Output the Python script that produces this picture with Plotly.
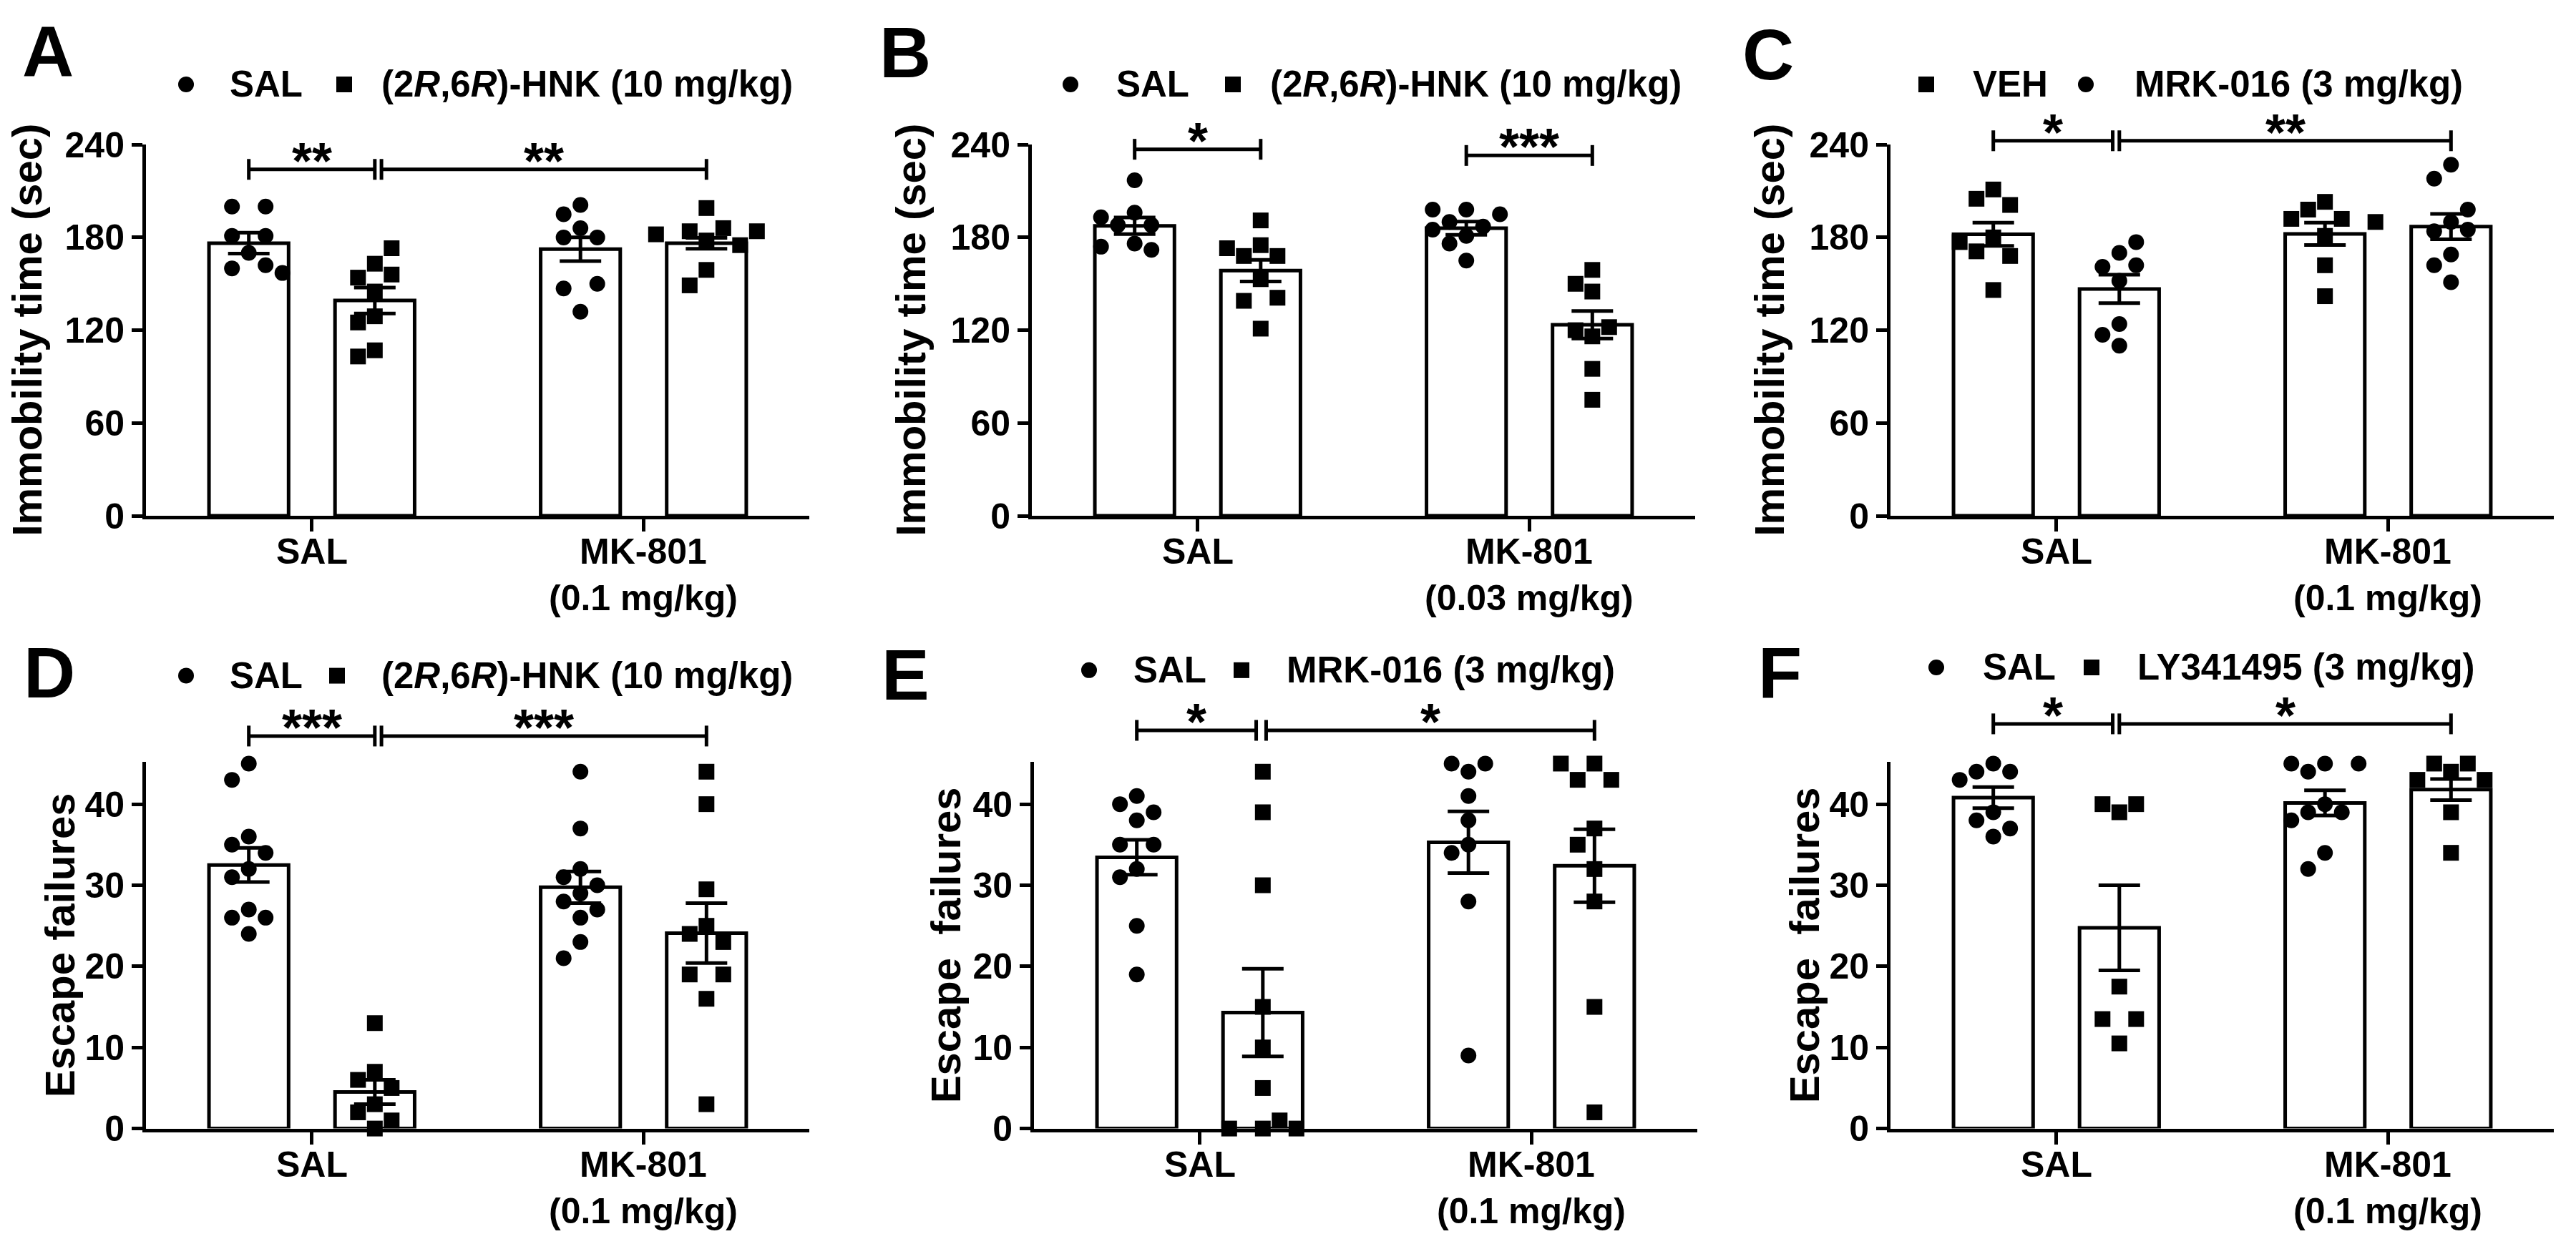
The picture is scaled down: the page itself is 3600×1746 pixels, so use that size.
import plotly.graph_objects as go

W, H = 3600, 1746
FONT = "Liberation Sans, Arial, sans-serif"

# ---------------- data ----------------
# A - immobility, (2R,6R)-HNK with MK-801 0.1 mg/kg
a_sal_sal = [200, 200, 181, 181, 170, 162, 160, 157]
a_sal_hnk = [173, 163, 156, 154, 145, 129, 125, 107, 103]
a_mk_sal = [201, 195, 186, 180, 180, 150, 147, 132]
a_mk_hnk = [199, 186, 184, 184, 182, 178, 175, 159, 149]
a_means = [176.3, 139.2, 172.4, 176.2]
a_sem = [6.8, 8.4, 7.7, 3.5]

# B - immobility, (2R,6R)-HNK with MK-801 0.03 mg/kg
b_sal_sal = [217, 196, 193, 188, 188, 176, 174, 172]
b_sal_hnk = [191, 175, 173, 168, 168, 153, 141, 139, 121]
b_mk_sal = [198, 198, 195, 190, 187, 185, 181, 176, 165]
b_mk_hnk = [159, 150, 145, 122, 120, 116, 95, 75]
b_means = [187.5, 158.5, 186.0, 123.5]
b_sem = [5.4, 7.0, 4.3, 8.9]

# C - immobility, MRK-016
c_sal_veh = [211, 205, 201, 180, 177, 171, 168, 146]
c_sal_mrk = [177, 170, 162, 161, 152, 124, 117, 110]
c_mk_veh = [203, 198, 192, 192, 190, 181, 162, 142]
c_mk_mrk = [227, 218, 198, 190, 185, 184, 169, 162, 151]
c_means = [182.0, 146.7, 182.3, 187.0]
c_sem = [7.5, 9.2, 7.2, 8.2]

# D - escape failures, (2R,6R)-HNK
d_sal_sal = [45, 43, 36, 35, 34, 32, 31, 27, 26, 26, 24]
d_sal_hnk = [13, 7, 6, 5, 3, 2, 1, 0]
d_mk_sal = [44, 37, 32, 31, 30, 29, 28, 27, 26, 23, 21]
d_mk_hnk = [44, 40, 29.5, 25, 24, 23, 19, 19, 16, 3]
d_means = [32.5, 4.5, 29.75, 24.1]
d_sem = [2.1, 1.5, 1.95, 3.7]

# E - escape failures, MRK-016
e_sal_sal = [41, 40, 39, 38, 35, 35, 32, 31, 25, 19]
e_sal_mrk = [44, 39, 30, 15, 10, 5, 1, 0, 0, 0]
e_mk_sal = [45, 45, 44, 41, 38, 35, 34, 28, 9]
e_mk_mrk = [45, 45, 43, 43, 37, 35, 32, 28, 15, 2]
e_means = [33.45, 14.3, 35.3, 32.4]
e_sem = [2.15, 5.4, 3.8, 4.5]

# F - escape failures, LY341495
f_sal_sal = [45, 44, 44, 43, 39, 38, 37, 36]
f_sal_ly = [40, 40, 39, 17.5, 13.5, 13.5, 10.5]
f_mk_sal = [45, 45, 45, 44, 40, 39, 39, 38, 34, 32]
f_mk_ly = [45, 45, 44, 43, 43, 39, 34]
f_means = [40.8, 24.75, 40.15, 41.8]
f_sem = [1.3, 5.25, 1.55, 1.3]

cat_labels = ["SAL", "MK-801"]
immob_ticks = [0, 60, 120, 180, 240]
escape_ticks = [0, 10, 20, 30, 40]
hnk_label = "(2<i>R</i>,6<i>R</i>)-HNK (10 mg/kg)"

# ---------------- layout helpers ----------------
AX_W = 927
BAR_OFF = 0.19
BAR_W = 0.24
PX_PER_X = AX_W / 2.0


def px(x, y):
    return x / W, 1 - y / H


def swarm(vals, ppu, step=23.5, diam=25):
    # GraphPad-like spreading of overlapping points (pixel space)
    n = len(vals)
    order = sorted(range(n), key=lambda i: -vals[i])
    placed = {}
    ks = [0] + [s * k for k in range(1, 12) for s in (-1, 1)]
    for i in order:
        y = vals[i] * ppu
        for k in ks:
            dx = k * step
            ok = all((placed[j] - dx) ** 2 + (vals[j] * ppu - y) ** 2 >= diam ** 2 for j in placed)
            if ok:
                placed[i] = dx
                break
    # centre each chain of touching points
    comps, comp = [], [order[0]]
    for a, b in zip(order, order[1:]):
        if abs(vals[a] - vals[b]) * ppu < diam:
            comp.append(b)
        else:
            comps.append(comp)
            comp = [b]
    comps.append(comp)
    for c in comps:
        m = sum(placed[i] for i in c) / len(c)
        shift = -round(m / step) * step
        for i in c:
            placed[i] += shift
    return [placed[i] for i in range(n)]


panels = [
    dict(letter="A", groups=[a_sal_sal, a_sal_hnk, a_mk_sal, a_mk_hnk], means=a_means, sems=a_sem,
         symbols=["circle", "square", "circle", "square"], ticks=immob_ticks, ymax=240,
         ytitle="Immobility time (sec)", dose="(0.1 mg/kg)",
         xl=204, yb=717, yt=181, letter_xy=(67, 46), ytitle_x=38,
         legend=[("circle", 260, 319, "SAL"), ("square", 481, 531, hnk_label)], leg_y=94,
         sig=[(-BAR_OFF, BAR_OFF, 224, "**"), (BAR_OFF + 0.02, 1 + BAR_OFF, 224, "**")]),
    dict(letter="B", groups=[b_sal_sal, b_sal_hnk, b_mk_sal, b_mk_hnk], means=b_means, sems=b_sem,
         symbols=["circle", "square", "circle", "square"], ticks=immob_ticks, ymax=240,
         ytitle="Immobility time (sec)", dose="(0.03 mg/kg)",
         xl=1442, yb=717, yt=181, letter_xy=(1265, 48), ytitle_x=1273,
         legend=[("circle", 1496, 1558, "SAL"), ("square", 1723, 1773, hnk_label)], leg_y=94,
         sig=[(-BAR_OFF, BAR_OFF, 237, "*"), (1 - BAR_OFF, 1 + BAR_OFF, 233, "***")]),
    dict(letter="C", groups=[c_sal_veh, c_sal_mrk, c_mk_veh, c_mk_mrk], means=c_means, sems=c_sem,
         symbols=["square", "circle", "square", "circle"], ticks=immob_ticks, ymax=240,
         ytitle="Immobility time (sec)", dose="(0.1 mg/kg)",
         xl=2642, yb=717, yt=181, letter_xy=(2471, 51), ytitle_x=2473,
         legend=[("square", 2692, 2755, "VEH"), ("circle", 2915, 2981, "MRK-016 (3 mg/kg)")], leg_y=94,
         sig=[(-BAR_OFF, BAR_OFF - 0.02, 242.5, "*"), (BAR_OFF, 1 + BAR_OFF, 242.5, "**")]),
    dict(letter="D", groups=[d_sal_sal, d_sal_hnk, d_mk_sal, d_mk_hnk], means=d_means, sems=d_sem,
         symbols=["circle", "square", "circle", "square"], ticks=escape_ticks, ymax=45.25,
         ytitle="Escape failures", dose="(0.1 mg/kg)",
         xl=204, yb=1602, yt=1072, letter_xy=(69, 943), ytitle_x=83,
         legend=[("circle", 260, 319, "SAL"), ("square", 471, 531, hnk_label)], leg_y=948,
         sig=[(-BAR_OFF, BAR_OFF, 48.4, "***"), (BAR_OFF + 0.02, 1 + BAR_OFF, 48.4, "***")]),
    dict(letter="E", groups=[e_sal_sal, e_sal_mrk, e_mk_sal, e_mk_mrk], means=e_means, sems=e_sem,
         symbols=["circle", "square", "circle", "square"], ticks=escape_ticks, ymax=45.25,
         ytitle="Escape  failures", dose="(0.1 mg/kg)",
         xl=1445, yb=1602, yt=1072, letter_xy=(1265, 946), ytitle_x=1321,
         legend=[("circle", 1522, 1582, "SAL"), ("square", 1735, 1796, "MRK-016 (3 mg/kg)")], leg_y=940,
         sig=[(-BAR_OFF, BAR_OFF - 0.02, 49.1, "*"), (BAR_OFF + 0.01, 1 + BAR_OFF, 49.1, "*")]),
    dict(letter="F", groups=[f_sal_sal, f_sal_ly, f_mk_sal, f_mk_ly], means=f_means, sems=f_sem,
         symbols=["circle", "square", "circle", "square"], ticks=escape_ticks, ymax=45.25,
         ytitle="Escape  failures", dose="(0.1 mg/kg)",
         xl=2642, yb=1602, yt=1072, letter_xy=(2487, 943), ytitle_x=2521,
         legend=[("circle", 2706, 2769, "SAL"), ("square", 2923, 2985, "LY341495 (3 mg/kg)")], leg_y=936,
         sig=[(-BAR_OFF, BAR_OFF - 0.02, 49.9, "*"), (BAR_OFF, 1 + BAR_OFF, 49.9, "*")]),
]

fig = go.Figure()
shapes = []
annotations = []
bold = dict(family=FONT, color="black", weight="bold")

for n, p in enumerate(panels, start=1):
    xa, ya = f"x{n}", f"y{n}"
    ppu = (p["yb"] - p["yt"]) / p["ymax"]
    pos = [-BAR_OFF, BAR_OFF, 1 - BAR_OFF, 1 + BAR_OFF]

    # bars with SEM
    fig.add_trace(go.Bar(
        x=pos, y=p["means"], width=BAR_W,
        marker=dict(color="white", line=dict(color="black", width=5)),
        error_y=dict(type="data", array=p["sems"], color="black", thickness=5, width=29),
        xaxis=xa, yaxis=ya, cliponaxis=False, hoverinfo="skip"))

    # individual animals
    for g, vals in enumerate(p["groups"]):
        offs = swarm(vals, ppu)
        fig.add_trace(go.Scatter(
            x=[pos[g] + o / PX_PER_X for o in offs], y=vals, mode="markers",
            marker=dict(symbol=p["symbols"][g], size=22, color="black", line=dict(width=0)),
            xaxis=xa, yaxis=ya, cliponaxis=False))

    x0, x1 = p["xl"] / W, (p["xl"] + AX_W) / W
    y0, y1 = 1 - p["yb"] / H, 1 - p["yt"] / H
    key = "" if n == 1 else str(n)
    fig.update_layout({
        f"xaxis{key}": dict(domain=[x0, x1], range=[-0.5, 1.5], anchor=ya,
                            showline=True, linewidth=5, linecolor="black",
                            ticks="outside", ticklen=17, tickwidth=5, tickcolor="black",
                            tickvals=[0, 1], showticklabels=False,
                            showgrid=False, zeroline=False, fixedrange=True),
        f"yaxis{key}": dict(domain=[y0, y1], range=[0, p["ymax"]], anchor=xa,
                            showline=True, linewidth=5, linecolor="black",
                            ticks="outside", ticklen=15, tickwidth=5, tickcolor="black",
                            tickvals=p["ticks"], tickfont=dict(size=50, **bold),
                            showgrid=False, zeroline=False, fixedrange=True),
    })

    def xp(v):
        return x0 + (v + 0.5) / 2.0 * (x1 - x0)

    def yp(v):
        return y0 + v / p["ymax"] * (y1 - y0)

    # category labels
    lab_y = 1 - (p["yb"] + 21) / H
    annotations.append(dict(xref="paper", yref="paper", x=xp(0), y=lab_y, text=cat_labels[0],
                            showarrow=False, xanchor="center", yanchor="top",
                            font=dict(size=50, **bold)))
    annotations.append(dict(xref="paper", yref="paper", x=xp(1), y=lab_y,
                            text=cat_labels[1] + "<br>" + p["dose"],
                            showarrow=False, xanchor="center", yanchor="top", align="center",
                            font=dict(size=50, **bold)))

    # significance brackets (paper coordinates so they can sit above the axis)
    for sx0, sx1, sy, stars in p["sig"]:
        shapes.append(dict(type="line", xref="paper", yref="paper", x0=xp(sx0), x1=xp(sx1),
                           y0=yp(sy), y1=yp(sy), line=dict(color="black", width=5)))
        for cx in (sx0, sx1):
            shapes.append(dict(type="line", xref="paper", yref="paper", x0=xp(cx), x1=xp(cx),
                               y0=yp(sy) - 15 / H, y1=yp(sy) + 15 / H,
                               line=dict(color="black", width=5)))
        annotations.append(dict(xref="paper", yref="paper", x=xp((sx0 + sx1) / 2), y=yp(sy),
                                yshift=12, text=stars, showarrow=False,
                                xanchor="center", yanchor="middle",
                                font=dict(size=72, **bold)))

    # panel letter
    lx, ly = px(*p["letter_xy"])
    annotations.append(dict(xref="paper", yref="paper", x=lx, y=ly, text=p["letter"],
                            showarrow=False, xanchor="center", yanchor="middle",
                            font=dict(size=100, **bold)))

    # y-axis title
    tx, ty = px(p["ytitle_x"], (p["yb"] + p["yt"]) / 2)
    annotations.append(dict(xref="paper", yref="paper", x=tx, y=ty, text=p["ytitle"],
                            textangle=-90, showarrow=False, xanchor="center", yanchor="middle",
                            font=dict(size=58, **bold)))

    # legend
    for sym, mx, tx_left, text in p["legend"]:
        _, my = px(0, p["leg_y"])
        shapes.append(dict(type="circle" if sym == "circle" else "rect",
                           xref="paper", yref="paper", xsizemode="pixel", ysizemode="pixel",
                           xanchor=mx / W, yanchor=my, x0=-11, x1=11, y0=-11, y1=11,
                           fillcolor="black", line=dict(width=0)))
        annotations.append(dict(xref="paper", yref="paper", x=tx_left / W, y=my, text=text,
                                showarrow=False, xanchor="left", yanchor="middle",
                                font=dict(size=51, **bold)))

fig.update_layout(
    width=W, height=H,
    margin=dict(l=0, r=0, t=0, b=0),
    paper_bgcolor="white", plot_bgcolor="white",
    showlegend=False, barmode="overlay",
    shapes=shapes, annotations=annotations,
    font=dict(family=FONT, color="black"),
)

fig.write_html("out.html", config={"displayModeBar": False},
               post_script="document.body.style.margin='0';")
